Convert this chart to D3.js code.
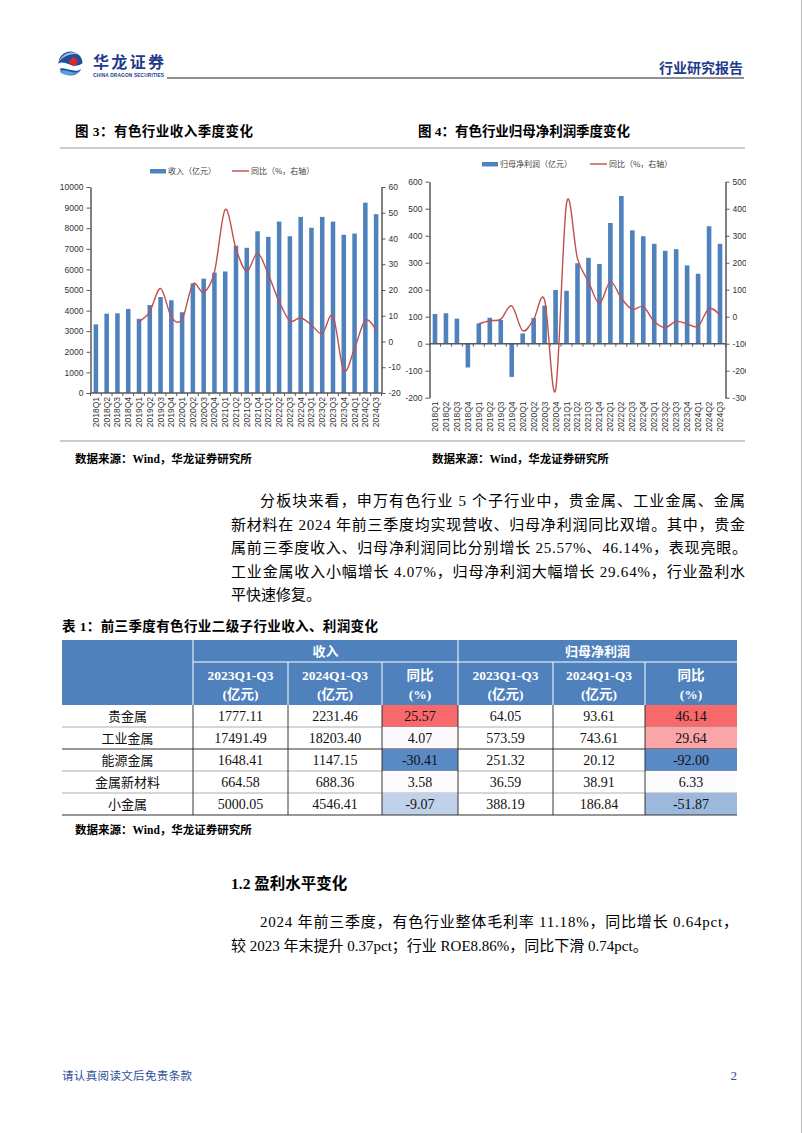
<!DOCTYPE html>
<html><head><meta charset="utf-8">
<script src="https://cdn.jsdelivr.net/npm/d3@7"></script>
<style>body{margin:0;background:#fff}svg{display:block}</style>
</head><body><svg id="page" width="802" height="1133"></svg>
<script>
// ---------------- DATA ----------------
const quarters = ["2018Q1","2018Q2","2018Q3","2018Q4","2019Q1","2019Q2","2019Q3","2019Q4","2020Q1","2020Q2","2020Q3","2020Q4","2021Q1","2021Q2","2021Q3","2021Q4","2022Q1","2022Q2","2022Q3","2022Q4","2023Q1","2023Q2","2023Q3","2023Q4","2024Q1","2024Q2","2024Q3"];
const revenue = [3330,3850,3870,4080,3600,4270,4660,4500,3920,5320,5550,5840,5900,7150,7050,7850,7580,8320,7610,8550,8020,8550,8320,7680,7740,9240,8680];
const revenueYoY = [null,null,null,null,7.7,11.6,20.6,9.6,8.6,22.3,19.1,27,51.3,36,27.3,34.3,26,15.5,8,9.2,6.4,3.1,9.9,-11.2,-2.7,8.3,4.4];
const profit = [110,113,93,-88,75,96,88,-123,38,95,141,199,196,298,318,295,447,547,420,398,370,344,350,290,259,435,370];
const profitYoY = [null,null,null,null,-26,-15,-9,40,-52,-10,62,-272,420,215,130,49,130,68,27,37,-18,-40,-17,-27,-35,30,5];
const revTicksL = [0,1000,2000,3000,4000,5000,6000,7000,8000,9000,10000];
const revTicksR = [-20,-10,0,10,20,30,40,50,60];
const profTicksL = [-200,-100,0,100,200,300,400,500,600];
const profTicksR = [-300,-200,-100,0,100,200,300,400,500];

const tableRows = ["贵金属","工业金属","能源金属","金属新材料","小金属"];
const rev2023 = [1777.11,17491.49,1648.41,664.58,5000.05];
const rev2024 = [2231.46,18203.40,1147.15,688.36,4546.41];
const revYoY = [25.57,4.07,-30.41,3.58,-9.07];
const np2023 = [64.05,573.59,251.32,36.59,388.19];
const np2024 = [93.61,743.61,20.12,38.91,186.84];
const npYoY = [46.14,29.64,-92.00,6.33,-51.87];

const para1 = ["分板块来看，申万有色行业 5 个子行业中，贵金属、工业金属、金属",
  "新材料在 2024 年前三季度均实现营收、归母净利润同比双增。其中，贵金",
  "属前三季度收入、归母净利润同比分别增长 25.57%、46.14%，表现亮眼。",
  "工业金属收入小幅增长 4.07%，归母净利润大幅增长 29.64%，行业盈利水",
  "平快速修复。"];
const para2 = ["2024 年前三季度，有色行业整体毛利率 11.18%，同比增长 0.64pct，",
  "较 2023 年末提升 0.37pct；行业 ROE8.86%，同比下滑 0.74pct。"];

// ---------------- SETUP ----------------
const svg = d3.select("#page");
svg.append("rect").attr("width",802).attr("height",1133).attr("fill","#fff");
const SERIF = "'Liberation Serif','Noto Sans CJK SC',serif";
const SANS = "'Liberation Sans','Noto Sans CJK SC',Arial,sans-serif";
const CJK = "'Noto Sans CJK SC',sans-serif";
const NAVY = "#1f3c8c";
const BAR = "#4f81bd", LINE = "#c0504d", AXIS = "#595959";

function txt(g, x, y, s, o = {}) {
  const t = g.append("text").attr("x", x).attr("y", y).text(s)
    .attr("font-family", o.ff || SERIF).attr("font-size", o.fs || 15)
    .attr("fill", o.fill || "#000");
  if (o.fw) t.attr("font-weight", o.fw);
  if (o.anchor) t.attr("text-anchor", o.anchor);
  if (o.len) t.attr("textLength", o.len).attr("lengthAdjust", o.adj || "spacing");
  return t;
}

// ---------------- HEADER ----------------
const hdr = svg.append("g");
const lg = hdr.append("g").attr("transform", "translate(70.5,63.5)");
lg.append("circle").attr("r", 12).attr("fill", "#1d4f9f");
lg.append("path").attr("d", "M-13,1 C-6,-6 2,8 13,-1 L13,4 C3,13 -6,0 -13,7 Z").attr("fill", "#fff");
lg.append("path").attr("d", "M-11,8 C-4,3 4,14 11,6 C8,12 -6,14 -11,8 Z").attr("fill", "#5aa0d8");
lg.append("path").attr("d", "M3,-7 L8,-2 L3,3 L-2,-2 Z").attr("fill", "#e0262b");
lg.append("path").attr("d", "M-12,-1 C-9,-10 2,-14 9,-9 C0,-11 -8,-7 -12,-1 Z").attr("fill", "#fff").attr("opacity", 0.6);
txt(hdr, 93, 68, "华龙证券", {ff: CJK, fs: 16, fw: 700, fill: NAVY, len: 71});
txt(hdr, 93, 76.5, "CHINA DRAGON SECURITIES", {ff: SANS, fs: 4.8, fw: 700, fill: NAVY, len: 71});
hdr.append("line").attr("x1", 167).attr("x2", 744).attr("y1", 78).attr("y2", 78).attr("stroke", "#222").attr("stroke-width", 1);
txt(hdr, 743, 73, "行业研究报告", {ff: CJK, fs: 14, fw: 700, fill: NAVY, anchor: "end"});
hdr.append("line").attr("x1", 801.5).attr("x2", 801.5).attr("y1", 0).attr("y2", 1133).attr("stroke", "#bbb");

// ---------------- FIGURE TITLES ----------------
txt(svg, 75, 136, "图 3：有色行业收入季度变化", {fs: 13.5, fw: 700, len: 178});
txt(svg, 418, 136, "图 4：有色行业归母净利润季度变化", {fs: 13.5, fw: 700, len: 212});
svg.append("line").attr("x1", 60).attr("x2", 745).attr("y1", 148).attr("y2", 148).attr("stroke", "#999").attr("stroke-width", 1.2);
svg.append("line").attr("x1", 60).attr("x2", 745).attr("y1", 441).attr("y2", 441).attr("stroke", "#999").attr("stroke-width", 1.2);
txt(svg, 75, 463, "数据来源：Wind，华龙证券研究所", {fs: 11.5, fw: 700});
txt(svg, 432, 463, "数据来源：Wind，华龙证券研究所", {fs: 11.5, fw: 700});

// ---------------- CHARTS ----------------
function drawChart(cfg) {
  const g = svg.append("g");
  const x = d3.scaleBand().domain(quarters).range([cfg.x0, cfg.x1]).paddingInner(0.58).paddingOuter(0.29);
  const yL = d3.scaleLinear().domain(d3.extent(cfg.ticksL)).range([cfg.yb, cfg.yt]);
  const yR = d3.scaleLinear().domain(d3.extent(cfg.ticksR)).range([cfg.yb, cfg.yt]);
  const cx = q => x(q) + x.bandwidth() / 2;

  g.selectAll("rect.bar").data(cfg.bars).join("rect").attr("class", "bar")
    .attr("x", (d, i) => x(quarters[i])).attr("width", x.bandwidth())
    .attr("y", d => yL(Math.max(0, d))).attr("height", d => Math.abs(yL(d) - yL(0)))
    .attr("fill", BAR);

  const styleAxis = a => {
    a.select(".domain").attr("stroke", AXIS).attr("stroke-width", 1.5);
    a.selectAll(".tick line").attr("stroke", AXIS).attr("stroke-width", 1);
    a.selectAll(".tick text").attr("font-family", SANS).attr("font-size", 8.5).attr("fill", "#333");
  };
  const intFmt = d => String(d);
  g.append("g").attr("transform", `translate(${cfg.x0},0)`)
    .call(d3.axisLeft(yL).tickValues(cfg.ticksL).tickSize(4).tickSizeOuter(0).tickPadding(3).tickFormat(intFmt))
    .call(styleAxis);
  const rg = g.append("g").attr("transform", `translate(${cfg.x1},0)`)
    .call(d3.axisRight(yR).tickValues(cfg.ticksR).tickSize(4).tickSizeOuter(0).tickPadding(3).tickFormat(intFmt))
    .call(styleAxis);
  if (cfg.clip) {
    const id = "clipR" + Math.round(cfg.x1);
    svg.append("clipPath").attr("id", id).append("rect").attr("x", -10).attr("y", 0).attr("width", cfg.clip - cfg.x1 + 10).attr("height", 1133);
    rg.attr("clip-path", `url(#${id})`);
  }
  // category axis at zero
  const y0 = yL(0);
  g.append("line").attr("x1", cfg.x0).attr("x2", cfg.x1).attr("y1", y0).attr("y2", y0).attr("stroke", AXIS).attr("stroke-width", 1.5);
  const bounds = quarters.map(q => cx(q) - x.step() / 2).concat([cx(quarters[quarters.length - 1]) + x.step() / 2]);
  g.selectAll("line.xt").data(bounds).join("line").attr("class", "xt")
    .attr("x1", d => d).attr("x2", d => d).attr("y1", y0).attr("y2", y0 + 3).attr("stroke", AXIS);
  g.selectAll("text.cat").data(quarters).join("text").attr("class", "cat")
    .attr("transform", d => `translate(${cx(d)},${cfg.labelY}) rotate(-90)`)
    .attr("text-anchor", "end").attr("dy", "0.35em")
    .attr("font-family", SANS).attr("font-size", 8.5).attr("fill", "#333").text(d => d);

  const line = d3.line().defined(d => d != null)
    .x((d, i) => cx(quarters[i])).y(d => yR(d)).curve(d3.curveCardinal);
  g.append("path").datum(cfg.yoy).attr("d", line).attr("fill", "none")
    .attr("stroke", LINE).attr("stroke-width", 1.4);

  // legend
  const L = cfg.legend;
  g.append("rect").attr("x", L.bx).attr("y", L.y - 2).attr("width", 16).attr("height", 4.5).attr("fill", BAR);
  txt(g, L.bx + 18, L.y + 3, cfg.barName, {ff: CJK, fs: 8, fill: "#404040"});
  g.append("line").attr("x1", L.lx).attr("x2", L.lx + 17).attr("y1", L.y).attr("y2", L.y).attr("stroke", LINE).attr("stroke-width", 1.4);
  txt(g, L.lx + 19, L.y + 3, "同比（%，右轴）", {ff: CJK, fs: 8, fill: "#404040"});
}

drawChart({x0: 90.5, x1: 381.5, yt: 187, yb: 393, ticksL: revTicksL, ticksR: revTicksR,
  bars: revenue, yoy: revenueYoY, labelY: 397, barName: "收入（亿元）",
  legend: {bx: 150, lx: 232, y: 171}});
drawChart({x0: 429.5, x1: 725.5, yt: 181.7, yb: 397.7, ticksL: profTicksL, ticksR: profTicksR,
  bars: profit, yoy: profitYoY, labelY: 401.5, barName: "归母净利润（亿元）",
  legend: {bx: 482, lx: 590, y: 164}, clip: 746});

// ---------------- PARAGRAPH 1 ----------------
const p1len = [485, 514, 516, 514, null];
para1.forEach((s, i) => {
  txt(svg, i === 0 ? 260 : 231, 506 + i * 23.5, s, {fs: 15, len: p1len[i]});
});

// ---------------- TABLE ----------------
txt(svg, 62, 631, "表 1：前三季度有色行业二级子行业收入、利润变化", {fs: 13.5, fw: 700, len: 316});
const cols = [62, 193, 288, 382, 458, 553, 645, 737];
const HEAD = "#4f81bd";
const tb = svg.append("g");
tb.append("rect").attr("x", 62).attr("y", 640).attr("width", 675).attr("height", 65).attr("fill", HEAD);
const wl = (x1, y1, x2, y2) => tb.append("line").attr("x1", x1).attr("y1", y1).attr("x2", x2).attr("y2", y2).attr("stroke", "#fff").attr("stroke-width", 1);
wl(193, 640, 193, 705); wl(458, 640, 458, 705); wl(193, 662, 737, 662);
[288, 382, 553, 645].forEach(c => wl(c, 662, c, 705));
txt(tb, (193 + 458) / 2, 656, "收入", {ff: SERIF, fs: 13, fw: 700, fill: "#fff", anchor: "middle"});
txt(tb, (458 + 737) / 2, 656, "归母净利润", {ff: SERIF, fs: 13, fw: 700, fill: "#fff", anchor: "middle"});
const sub1 = ["2023Q1-Q3", "2024Q1-Q3", "同比", "2023Q1-Q3", "2024Q1-Q3", "同比"];
const sub2 = ["(亿元)", "(亿元)", "(%)", "(亿元)", "(亿元)", "(%)"];
sub1.forEach((s, i) => {
  const c = (cols[i + 1] + cols[i + 2]) / 2;
  txt(tb, c, 680, s, {fs: 13.5, fw: 700, fill: "#fff", anchor: "middle"});
  txt(tb, c, 699, sub2[i], {fs: 13.5, fw: 700, fill: "#fff", anchor: "middle"});
});
const colorScale = vals => {
  const s = vals.slice().sort(d3.ascending);
  return d3.scaleLinear().domain([s[0], d3.median(s), s[s.length - 1]]).range(["#5a8ac6", "#fcfcff", "#f8696b"]);
};
const cRev = colorScale(revYoY), cNp = colorScale(npYoY);
const rowTop = 705, rowH = 22;
const fmt = v => v.toFixed(2);
tableRows.forEach((name, r) => {
  const y = rowTop + r * rowH;
  tb.append("rect").attr("x", cols[3]).attr("y", y).attr("width", cols[4] - cols[3]).attr("height", rowH).attr("fill", cRev(revYoY[r]));
  tb.append("rect").attr("x", cols[6]).attr("y", y).attr("width", cols[7] - cols[6]).attr("height", rowH).attr("fill", cNp(npYoY[r]));
  const vals = [rev2023[r], rev2024[r], revYoY[r], np2023[r], np2024[r], npYoY[r]];
  txt(tb, (cols[0] + cols[1]) / 2, y + 16, name, {ff: CJK, fs: 13, anchor: "middle", fill: "#111"});
  vals.forEach((v, i) => txt(tb, (cols[i + 1] + cols[i + 2]) / 2, y + 16, fmt(v), {fs: 14, anchor: "middle", fill: "#111"}));
  tb.append("line").attr("x1", 62).attr("x2", 737).attr("y1", y + rowH).attr("y2", y + rowH)
    .attr("stroke", r === 1 || r === 4 ? "#333" : "#9a9a9a").attr("stroke-width", r === 1 || r === 4 ? 1.2 : 0.8);
});
cols.slice(1, -1).forEach(c => tb.append("line").attr("x1", c).attr("x2", c).attr("y1", 705).attr("y2", 705 + rowH * 5).attr("stroke", "#222").attr("stroke-width", 0.9));
txt(svg, 75, 834, "数据来源：Wind，华龙证券研究所", {fs: 11.5, fw: 700});

// ---------------- SECTION 1.2 ----------------
txt(svg, 231, 889, "1.2  盈利水平变化", {fs: 15.5, fw: 700});
txt(svg, 260, 927, para2[0], {fs: 15, len: 478});
txt(svg, 231, 951, para2[1], {fs: 15});

// ---------------- FOOTER ----------------
txt(svg, 62, 1080, "请认真阅读文后免责条款", {ff: CJK, fs: 11.5, fill: "#2d4f9a", len: 130});
txt(svg, 737, 1080, "2", {fs: 13, fill: "#2d4f9a", anchor: "end"});
</script></body></html>
